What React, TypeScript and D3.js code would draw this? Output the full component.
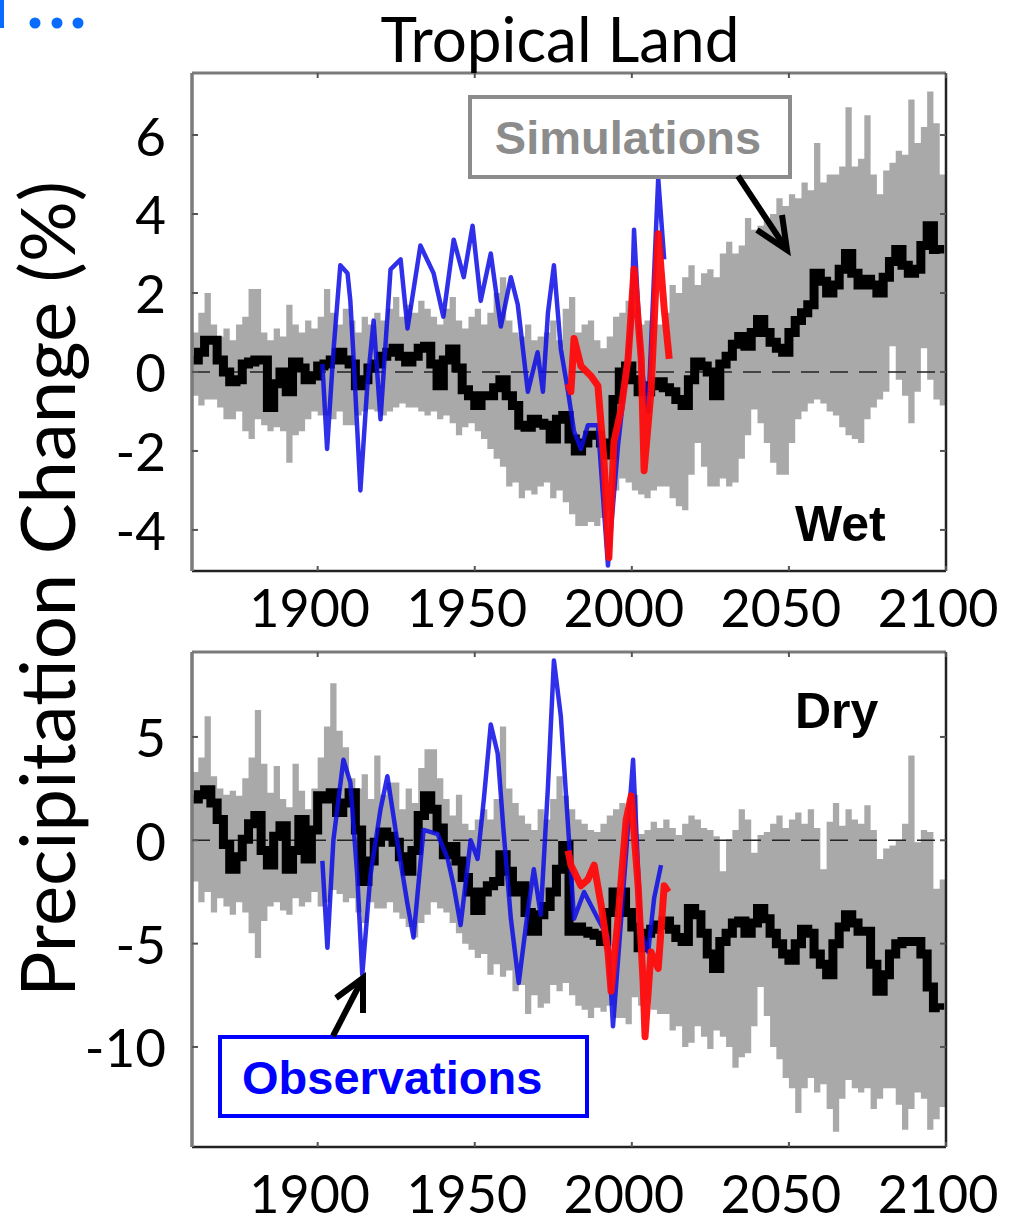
import { useRef, useEffect } from 'react'
import * as d3 from 'd3'

// simulations are stored in 2-year steps
const bandYears = d3.range(1860, 2101, 2)
const meanYears = d3.range(1860, 2099, 2)
const xTicks = [1900, 1950, 2000, 2050, 2100]

// ---------- Wet regions ----------
const wetTicks = [6, 4, 2, 0, -2, -4]
const wetUpper = [
  1.0, 1.5, 2.0, 1.2, 0.9, 1.1, 0.8, 1.2, 1.4, 2.1, // 1860
  2.1, 1.0, 0.8, 1.1, 0.9, 1.7, 1.2, 1.0, 1.3, 1.1, // 1880
  1.4, 2.1, 1.5, 1.2, 1.6, 1.3, 1.0, 1.4, 1.2, 1.5, // 1900
  1.3, 1.6, 1.9, 1.4, 1.7, 1.5, 1.8, 1.6, 1.4, 1.2, // 1920
  1.6, 1.9, 1.3, 1.1, 1.4, 1.6, 1.2, 1.5, 2.0, 2.4, // 1940
  1.3, 1.0, 0.9, 1.2, 0.8, 0.9, 1.0, 1.3, 0.8, 1.6, // 1960
  1.9, 1.0, 1.2, 1.3, 0.8, 0.6, 0.9, 1.4, 1.5, 1.8, // 1980
  1.6, 1.2, 1.3, 1.4, 1.2, 1.5, 2.2, 2.0, 2.4, 2.7, // 2000
  2.2, 2.5, 2.6, 2.4, 3.0, 3.3, 3.0, 3.2, 3.9, 3.6, // 2020
  3.7, 3.9, 4.0, 4.4, 4.2, 4.5, 4.4, 4.8, 4.6, 5.8, // 2040
  4.8, 5.0, 5.0, 5.2, 6.7, 5.2, 5.4, 6.5, 5.0, 4.5, // 2060
  5.1, 5.3, 5.6, 5.5, 6.9, 5.8, 6.2, 7.1, 6.3, 5.0, // 2080
  5.0
]
const wetLower = [
  -0.6, -0.85, -0.7, -0.7, -0.9, -1.2, -1.2, -1.0, -1.5, -1.7,
  -1.2, -1.35, -1.5, -1.4, -1.5, -2.3, -1.6, -1.5, -1.2, -1.0,
  -1.1, -1.1, -1.2, -1.0, -1.35, -1.35, -1.1, -1.0, -0.95, -1.0,
  -1.1, -1.0, -0.9, -0.8, -0.9, -0.9, -1.0, -1.1, -1.0, -1.2,
  -1.1, -1.3, -1.6, -1.4, -1.3, -1.5, -1.7, -1.95, -2.2, -2.4,
  -2.9, -2.8, -3.2, -3.0, -3.1, -2.9, -2.8, -3.2, -3.0, -3.3,
  -3.6, -3.9, -3.9, -3.8, -3.9, -3.7, -3.5, -3.0, -2.7, -2.8,
  -3.0, -3.1, -3.2, -3.0, -2.9, -2.9, -3.2, -3.4, -3.5, -2.6,
  -1.8, -2.4, -2.9, -2.9, -2.7, -2.9, -2.8, -2.2, -1.6, -0.95,
  -1.3, -1.8, -2.3, -2.6, -2.6, -1.8, -1.2, -1.0, -0.8, -0.7,
  -0.8, -1.0, -1.1, -1.4, -1.6, -1.7, -1.8, -1.2, -0.9, -0.7,
  -0.5, 0.65, -0.2, -0.6, -1.3, -0.5, 0.6, -0.2, -0.7, -0.85,
  -0.85
]
const wetMean = [
  0.3, 0.5, 0.8, 0.8, 0.3, 0.0, -0.25, -0.2, 0.2, 0.25,
  0.3, 0.3, -0.9, -0.3, 0.0, -0.5, 0.25, 0.1, -0.2, -0.1,
  0.15, 0.2, 0.3, 0.5, 0.3, 0.2, -0.35, -0.2, 0.1, 0.2,
  0.4, 0.5, 0.6, 0.4, 0.25, 0.4, 0.6, 0.65, 0.2, -0.35,
  0.3, 0.58, 0.1, -0.45, -0.6, -0.85, -0.6, -0.6, -0.4, -0.2,
  -0.6, -0.85, -1.35, -1.4, -1.2, -1.3, -1.35, -1.7, -1.2, -1.1,
  -1.7, -2.0, -1.8, -1.6, -1.6, -1.8, -2.1, -0.7, 0.0, 0.15,
  -0.2, -0.5, -0.5, -0.35, -0.25, -0.4, -0.5, -0.7, -0.85, -0.2,
  0.25, 0.15, 0.0, -0.6, 0.2, 0.4, 0.7, 0.9, 0.65, 1.0,
  1.33, 1.0, 0.75, 0.6, 0.5, 1.0, 1.3, 1.5, 1.7, 2.5,
  2.3, 2.0, 2.2, 2.6, 3.0, 2.5, 2.2, 2.35, 2.2, 2.0,
  2.4, 2.8, 3.1, 2.7, 2.5, 2.6, 3.2, 3.7, 3.1, 3.0
]
const wetObsYears = [
  1901.5, 1903, 1905, 1907.2, 1909.5, 1910.4, 1911.4, 1913.6, 1915.8, 1917.8,
  1920, 1923.2, 1926.4, 1928.6, 1932.7, 1936.9, 1940, 1943.3, 1946.5, 1949.3,
  1951.9, 1955.1, 1958.3, 1961.5, 1963.7, 1966.9, 1970, 1971.7, 1973.3, 1975.2,
  1977.4, 1979.7, 1981.6, 1983.8, 1986, 1989.2, 1992.4, 1995.6, 1999.8, 2000.7,
  2003, 2005.2, 2008.4, 2010.3
]
const wetObs = [
  0.2, -1.95, 0.5, 2.7, 2.5, 1.8, 0.4, -3.0, -0.35, 1.3,
  -1.2, 2.6, 2.85, 1.1, 3.2, 2.5, 1.4, 3.35, 2.4, 3.7,
  1.8, 3.0, 1.15, 2.4, 1.7, -0.5, 0.5, -0.5, 1.5, 2.7,
  0.58, -0.5, -1.5, -1.95, -1.35, -1.35, -4.9, -1.87, 1.15, 3.6,
  0.15, -1.0, 4.9, 2.85
]
const wetSatYears = [
  1979.7, 1980.6, 1981.6, 1983.8, 1987, 1989.2, 1991.1, 1992.7, 1994.3, 1996.6,
  1998.8, 2000.7, 2003, 2003.9, 2006.1, 2008.4, 2010.3, 2011.9
]
const wetSat = [
  -0.3, -0.5, 0.85, 0.15, -0.1, -0.35, -2.2, -4.7, -1.77, -0.93,
  0.33, 2.6, 0.33, -2.5, -0.5, 3.5, 1.6, 0.33
]

// ---------- Dry regions ----------
const dryTicks = [5, 0, -5, -10]
const dryUpper = [
  3.3, 4.0, 6.0, 3.1, 2.5, 2.2, 2.4, 2.15, 3.0, 4.0, // 1860
  6.3, 3.7, 2.3, 3.6, 2.0, 1.6, 3.7, 2.4, 1.5, 2.5, // 1880
  4.0, 5.5, 7.6, 5.3, 4.5, 3.0, 2.5, 3.2, 2.0, 4.1, // 1900
  2.2, 2.8, 2.8, 1.5, 2.5, 1.8, 3.5, 4.4, 4.4, 3.0, // 1920
  2.0, 1.2, 2.2, 0.8, 0.5, 1.0, 1.5, 1.0, 2.0, 5.5, // 1940
  2.5, 1.8, 1.2, 0.8, 0.5, 1.5, 1.0, 2.0, 3.1, 2.15, // 1960
  1.5, 1.0, 0.8, 0.5, 0.4, 0.8, 1.2, 1.5, 1.8, 1.0, // 1980
  2.2, 0.3, 0.5, 0.9, 0.6, 1.0, 0.6, 0.25, 0.8, 1.2, // 2000
  1.0, 0.6, 0.5, 0.2, -1.5, 0.05, 0.5, 1.5, 1.0, -0.6, // 2020
  0.25, 0.4, 0.8, 1.2, 0.6, 1.0, 1.35, 0.8, 1.5, 0.6, // 2040
  -1.4, 0.9, 1.8, 0.7, 1.5, 1.0, 0.8, 1.7, 0.5, -0.9, // 2060
  -0.4, -0.25, 0.0, 0.8, 4.1, -0.1, 0.5, 0.4, -2.35, -1.9, // 2080
  -1.9
]
const dryLower = [
  -2.0, -3.0, -2.5, -3.5, -2.8, -3.2, -3.6, -3.0, -3.5, -4.5,
  -5.7, -3.9, -3.2, -3.0, -3.4, -3.6, -2.8, -3.2, -3.0, -2.5,
  -3.2, -3.0, -2.4, -2.6, -3.0, -2.8, -3.5, -4.0, -3.0, -3.3,
  -3.3, -3.0, -3.5, -3.8, -4.2, -4.7, -4.0, -3.6, -3.0, -3.3,
  -3.5, -4.0, -4.5, -5.0, -5.3, -5.7, -5.5, -6.5, -6.0, -6.6,
  -6.3, -7.3, -7.0, -8.4, -7.5, -8.1, -7.9, -7.0, -7.3, -6.9,
  -7.5, -8.0, -8.2, -8.6, -8.1, -8.3, -8.0, -8.6, -8.6, -8.9,
  -7.6, -8.0, -7.7, -8.2, -8.4, -8.4, -9.2, -9.0, -10.0, -9.8,
  -9.0, -9.5, -10.1, -9.2, -9.5, -10.0, -11.0, -10.5, -10.3, -9.0,
  -7.1, -8.5, -10.0, -10.6, -11.5, -12.0, -13.2, -12.0, -11.5, -12.2,
  -11.8, -13.0, -14.1, -12.5, -11.6, -12.0, -12.2, -12.0, -13.0, -12.5,
  -12.0, -12.0, -12.8, -14.0, -13.0, -12.2, -12.5, -14.0, -13.5, -12.9,
  -12.9
]
const dryMean = [
  2.0, 2.2, 2.45, 1.8, 1.0, -0.2, -1.4, -0.8, 0.05, 0.8,
  1.2, -0.5, -1.2, 0.2, 0.7, -1.4, -0.5, 1.0, -0.9, 0.5,
  2.15, 2.0, 2.3, 1.35, 1.8, 2.3, 0.5, -2.0, -1.0, -0.1,
  0.4, 0.2, -0.1, -0.8, -1.5, -0.5, 1.2, 2.15, 1.5, 0.6,
  -0.7, -0.3, -1.0, -1.8, -2.5, -3.4, -2.5, -2.2, -2.0, -0.7,
  -1.5, -2.5, -2.2, -3.5, -4.4, -3.6, -3.2, -2.5, -1.4, -0.25,
  -4.4, -4.2, -4.4, -4.5, -4.6, -4.9, -3.5, -2.5, -2.5, -3.5,
  -4.2, -5.2, -4.5, -4.3, -4.1, -3.9, -4.3, -4.7, -4.9, -3.3,
  -3.6, -4.5, -5.5, -6.2, -4.9, -4.5, -4.0, -3.9, -4.5, -4.0,
  -3.3, -3.8, -4.5, -5.0, -5.5, -5.8, -5.0, -4.3, -4.5, -5.5,
  -6.0, -6.5, -5.0, -4.2, -3.6, -4.0, -4.4, -4.4, -6.0, -7.3,
  -6.5, -5.5, -5.0, -4.9, -4.9, -4.9, -5.5, -7.1, -8.1, -8.2
]
const dryObsYears = [
  1901.5, 1903.1, 1905, 1908.2, 1910.4, 1912.6, 1914.2, 1916.8, 1920, 1922.2,
  1925.4, 1928.6, 1930.5, 1933.7, 1938.2, 1941.4, 1943.3, 1945.5, 1948.7, 1950.9,
  1952.9, 1955.1, 1957.3, 1959.2, 1961.5, 1964, 1966.9, 1968.8, 1971, 1973.3,
  1975.2, 1977.4, 1979.7, 1981.6, 1984.8, 1989.2, 1992.4, 1994, 1996.6, 2000.4,
  2002.9, 2005.2, 2007.1, 2009.3
]
const dryObs = [
  -1.0, -5.2, 0.0, 3.9, 2.8, -1.7, -6.5, -1.7, 1.5, 3.1,
  -0.1, -3.1, -4.7, 0.5, 0.3, -0.9, -2.2, -4.1, 0.0, -0.9,
  2.0, 5.6, 4.2, 0.4, -3.8, -6.9, -3.4, -1.4, -3.6, 2.6,
  8.7, 6.0, 0.7, -3.8, -2.5, -3.8, -4.7, -9.0, -3.8, 3.9,
  -4.5, -5.4, -2.8, -1.2
]
const drySatYears = [
  1979.7, 1980.6, 1983.8, 1986, 1988, 1990.2, 1992.4, 1993.4, 1995.6, 1998.2,
  1999.8, 2002, 2003.6, 2004.2, 2006.1, 2008.4, 2010.3, 2011.6
]
const drySat = [
  -0.5, -1.2, -2.2, -1.9, -1.2, -3.1, -5.4, -7.3, -3.8, 1.0,
  2.15, -2.2, -6.9, -9.5, -5.4, -6.2, -2.2, -2.5
]

const tickFont = 'Lato, "Open Sans", sans-serif'
const boldFont = '"Liberation Sans", Arial, sans-serif'

const App = () => {
  const svgRef = useRef<SVGSVGElement>(null)

  useEffect(() => {
    const svg = d3.select(svgRef.current)
    svg.selectAll('*').remove()

    const left = 192, right = 946
    const x = d3.scaleLinear().domain([1860, 2100]).range([left, right])

    const panels = [
      { id: 'wet', top: 73, bottom: 571, domain: [-5.04, 7.57], ticks: wetTicks, labelY: 627,
        upper: wetUpper, lower: wetLower, mean: wetMean,
        obsYears: wetObsYears, obs: wetObs, satYears: wetSatYears, sat: wetSat },
      { id: 'dry', top: 652, bottom: 1147, domain: [-14.84, 9.11], ticks: dryTicks, labelY: 1213,
        upper: dryUpper, lower: dryLower, mean: dryMean,
        obsYears: dryObsYears, obs: dryObs, satYears: drySatYears, sat: drySat },
    ]

    panels.forEach(p => {
      const y = d3.scaleLinear().domain(p.domain).range([p.bottom, p.top])

      svg.append('clipPath').attr('id', `clip-${p.id}`)
        .append('rect')
        .attr('x', left).attr('y', p.top)
        .attr('width', right - left).attr('height', p.bottom - p.top)

      const g = svg.append('g').attr('clip-path', `url(#clip-${p.id})`)

      // simulation spread
      const band = d3.area<number>()
        .x(d => x(d))
        .y0((_, i) => y(p.lower[i]))
        .y1((_, i) => y(p.upper[i]))
        .curve(d3.curveStepAfter)
      g.append('path').datum(bandYears).attr('d', band).attr('fill', '#a9a9a9')

      // zero line
      g.append('line')
        .attr('x1', left).attr('x2', right)
        .attr('y1', y(0)).attr('y2', y(0))
        .attr('stroke', '#222').attr('stroke-width', 1.6)
        .attr('stroke-dasharray', '18 11')

      // multi-model mean
      const meanLine = d3.line<number>()
        .x(d => x(d))
        .y((_, i) => y(p.mean[i]))
        .curve(d3.curveStepAfter)
      g.append('path').datum(meanYears).attr('d', meanLine)
        .attr('fill', 'none').attr('stroke', '#000').attr('stroke-width', 9)

      // observations
      const obsLine = d3.line<number>()
        .x(d => x(d))
        .y((_, i) => y(p.obs[i]))
      g.append('path').datum(p.obsYears).attr('d', obsLine)
        .attr('fill', 'none').attr('stroke', '#0c0ce6').attr('stroke-opacity', 0.85)
        .attr('stroke-width', 4.5).attr('stroke-linejoin', 'round')

      const satLine = d3.line<number>()
        .x(d => x(d))
        .y((_, i) => y(p.sat[i]))
      g.append('path').datum(p.satYears).attr('d', satLine)
        .attr('fill', 'none').attr('stroke', '#ff0a0a').attr('stroke-opacity', 0.95)
        .attr('stroke-width', 7).attr('stroke-linejoin', 'round')

      // frame
      svg.append('line').attr('x1', left).attr('x2', right).attr('y1', p.top).attr('y2', p.top)
        .attr('stroke', '#7a7a7a').attr('stroke-width', 3)
      svg.append('line').attr('x1', left).attr('x2', right).attr('y1', p.bottom).attr('y2', p.bottom)
        .attr('stroke', '#222').attr('stroke-width', 2.5)
      svg.append('line').attr('x1', left).attr('x2', left).attr('y1', p.top).attr('y2', p.bottom)
        .attr('stroke', '#7a7a7a').attr('stroke-width', 3.5)
      svg.append('line').attr('x1', right).attr('x2', right).attr('y1', p.top).attr('y2', p.bottom)
        .attr('stroke', '#222').attr('stroke-width', 2.5)

      // ticks inside the box
      xTicks.forEach(t => {
        svg.append('line').attr('x1', x(t)).attr('x2', x(t)).attr('y1', p.top).attr('y2', p.top + 5)
          .attr('stroke', '#555').attr('stroke-width', 2)
        svg.append('line').attr('x1', x(t)).attr('x2', x(t)).attr('y1', p.bottom).attr('y2', p.bottom - 5)
          .attr('stroke', '#555').attr('stroke-width', 2)
        svg.append('text').attr('x', x(t) - 8).attr('y', p.labelY)
          .attr('text-anchor', 'middle').attr('font-family', tickFont).attr('font-size', 52)
          .attr('fill', '#000').text(t)
      })
      p.ticks.forEach(t => {
        svg.append('line').attr('x1', left).attr('x2', left + 6).attr('y1', y(t)).attr('y2', y(t))
          .attr('stroke', '#555').attr('stroke-width', 2)
        svg.append('line').attr('x1', right).attr('x2', right - 6).attr('y1', y(t)).attr('y2', y(t))
          .attr('stroke', '#555').attr('stroke-width', 2)
        svg.append('text').attr('x', 166).attr('y', y(t))
          .attr('text-anchor', 'end').attr('dominant-baseline', 'central')
          .attr('font-family', tickFont).attr('font-size', 53)
          .attr('fill', '#000').text(t)
      })
    })

    // title and y label
    svg.append('text').attr('x', 560).attr('y', 62).attr('text-anchor', 'middle')
      .attr('font-family', tickFont).attr('font-size', 62).text('Tropical Land')
    svg.append('text').attr('transform', 'translate(75,589) rotate(-90)')
      .attr('text-anchor', 'middle').attr('font-family', tickFont).attr('font-size', 76)
      .text('Precipitation Change (%)')

    // region labels
    svg.append('text').attr('x', 795).attr('y', 541).attr('font-family', boldFont)
      .attr('font-weight', 'bold').attr('font-size', 50).text('Wet')
    svg.append('text').attr('x', 795).attr('y', 728).attr('font-family', boldFont)
      .attr('font-weight', 'bold').attr('font-size', 50).text('Dry')

    // Simulations callout
    svg.append('rect').attr('x', 470).attr('y', 97).attr('width', 320).attr('height', 80)
      .attr('fill', '#fff').attr('stroke', '#8c8c8c').attr('stroke-width', 4)
    svg.append('text').attr('x', 628).attr('y', 154).attr('text-anchor', 'middle')
      .attr('font-family', boldFont).attr('font-weight', 'bold').attr('font-size', 47)
      .attr('fill', '#8c8c8c').text('Simulations')
    svg.append('line').attr('x1', 738).attr('y1', 176).attr('x2', 785).attr('y2', 247)
      .attr('stroke', '#000').attr('stroke-width', 6)
    svg.append('polyline').attr('points', '757,230 787,250 782,215')
      .attr('fill', 'none').attr('stroke', '#000').attr('stroke-width', 6)

    // Observations callout
    svg.append('rect').attr('x', 220).attr('y', 1037).attr('width', 367).attr('height', 79)
      .attr('fill', '#fff').attr('stroke', '#0000ff').attr('stroke-width', 4)
    svg.append('text').attr('x', 242).attr('y', 1094)
      .attr('font-family', boldFont).attr('font-weight', 'bold').attr('font-size', 47)
      .attr('fill', '#0000ff').text('Observations')
    svg.append('line').attr('x1', 333).attr('y1', 1036).attr('x2', 362).attr('y2', 980)
      .attr('stroke', '#000').attr('stroke-width', 6)
    svg.append('polyline').attr('points', '336,998 363,978 363,1013')
      .attr('fill', 'none').attr('stroke', '#000').attr('stroke-width', 6)

    // blue ellipsis in the corner
    svg.append('rect').attr('x', 0).attr('y', 0).attr('width', 4).attr('height', 28).attr('fill', '#0a6cff')
    ;[35, 57, 78].forEach(cx => {
      svg.append('circle').attr('cx', cx).attr('cy', 23).attr('r', 5.5).attr('fill', '#0a6cff')
    })
  }, [])

  return (
    <svg ref={svgRef} width={1009} height={1225}
      style={{ position: 'absolute', left: 0, top: 0, background: '#fff' }} />
  )
}
export default App
